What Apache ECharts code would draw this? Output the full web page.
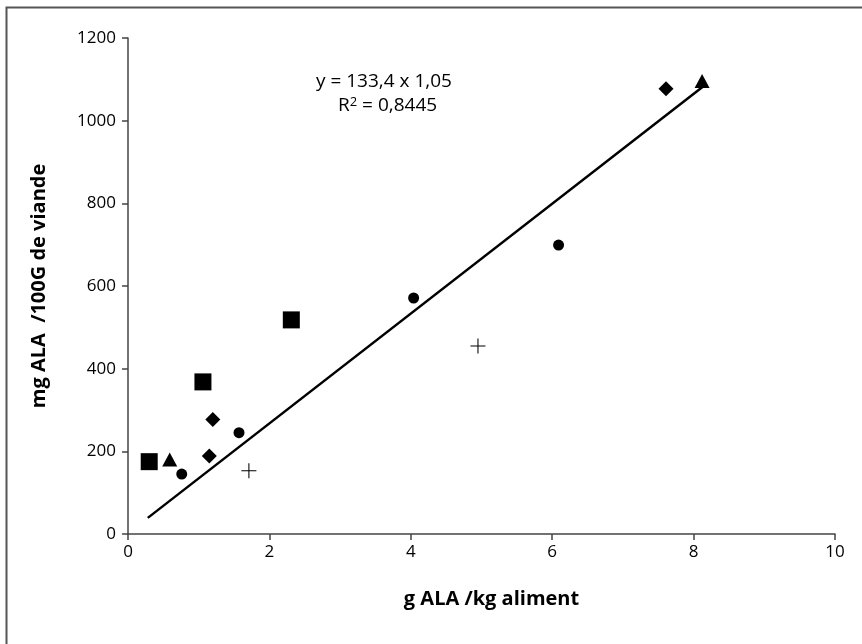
<!DOCTYPE html>
<html>
<head>
<meta charset="utf-8">
<script src="https://cdn.jsdelivr.net/npm/echarts@6/dist/echarts.min.js"></script>
<style>
  html, body { margin: 0; padding: 0; background: #fff; }
  #chart { width: 862px; height: 644px; }
</style>
</head>
<body>
<div id="chart"></div>
<script>
// points per marker type: [x, y]
var carres = [[0.30, 175], [1.06, 368], [2.31, 518]];
var triangles = [[0.59, 180], [8.12, 1096]];
var ronds = [[0.76, 145], [1.57, 245], [4.04, 571], [6.09, 699]];
var losanges = [[1.15, 189], [1.20, 277], [7.61, 1077]];
var croix = [[1.71, 153], [4.95, 455]];
// trend line ends
var tendance = [[0.28, 39], [8.13, 1082]];
var equation = "y = 133,4 x 1,05";
var r2 = "0,8445";

var chart = echarts.init(document.getElementById("chart"));
var font = "'Open Sans', 'Noto Sans', sans-serif";
var axeCouleur = "#444";

var option = {
  animation: false,
  backgroundColor: "#fff",
  grid: { left: 128, right: 27, top: 38, bottom: 110 },
  xAxis: {
    type: "value",
    min: 0, max: 10, interval: 2,
    name: "g ALA /kg aliment",
    nameLocation: "middle",
    nameGap: 55,
    nameTextStyle: { color: "#000", fontSize: 20, fontWeight: "bold", fontFamily: font, padding: [0, 0, 0, 20] },
    axisLine: { show: true, lineStyle: { color: axeCouleur, width: 1.5 } },
    axisTick: { show: true, inside: false, length: 6, lineStyle: { color: axeCouleur, width: 1.5 } },
    axisLabel: { color: "#000", fontSize: 17, fontFamily: font, margin: 10 },
    splitLine: { show: false }
  },
  yAxis: {
    type: "value",
    min: 0, max: 1200, interval: 200,
    name: "mg ALA  /100G de viande",
    nameLocation: "middle",
    nameGap: 79,
    nameTextStyle: { color: "#000", fontSize: 20, fontWeight: "bold", fontFamily: font, padding: [0, 0, 0, 0] },
    axisLine: { show: true, lineStyle: { color: axeCouleur, width: 1.5 } },
    axisTick: { show: true, inside: false, length: 6, lineStyle: { color: axeCouleur, width: 1.5 } },
    axisLabel: { color: "#000", fontSize: 17, fontFamily: font, margin: 12, formatter: function (v) { return String(v); } },
    splitLine: { show: false }
  },
  graphic: [
    {
      type: "rect",
      left: 4, top: 5,
      shape: { width: 900, height: 700 },
      style: { fill: "none", stroke: "#555", lineWidth: 2 },
      silent: true
    },
    {
      type: "text",
      left: 316, top: 72,
      style: {
        text: equation,
        fill: "#000",
        font: "19px " + font
      }
    },
    {
      type: "text",
      left: 338, top: 96,
      style: {
        text: "R{s|2} = " + r2,
        fill: "#000",
        font: "19px " + font,
        rich: {
          s: { fontSize: 13, verticalAlign: "top", fontFamily: font, fill: "#000", padding: [0, 0, 7, 0] }
        }
      }
    }
  ],
  series: [
    {
      type: "line",
      data: tendance,
      symbol: "none",
      lineStyle: { color: "#000", width: 2.5 },
      z: 1
    },
    {
      type: "scatter", data: carres, symbol: "rect", symbolSize: 17,
      itemStyle: { color: "#000", opacity: 1 }
    },
    {
      type: "scatter", data: triangles, symbol: "triangle", symbolSize: [15, 14],
      itemStyle: { color: "#000", opacity: 1 }
    },
    {
      type: "scatter", data: ronds, symbol: "circle", symbolSize: 11,
      itemStyle: { color: "#000", opacity: 1 }
    },
    {
      type: "scatter", data: losanges, symbol: "diamond", symbolSize: [15, 15],
      itemStyle: { color: "#000", opacity: 1 }
    },
    {
      type: "scatter", data: croix,
      symbol: "path://M-0.07,-1H0.07V-0.07H1V0.07H0.07V1H-0.07V0.07H-1V-0.07H-0.07Z",
      symbolSize: 15,
      itemStyle: { color: "#000", opacity: 1 }
    }
  ]
};
chart.setOption(option);
</script>
</body>
</html>
